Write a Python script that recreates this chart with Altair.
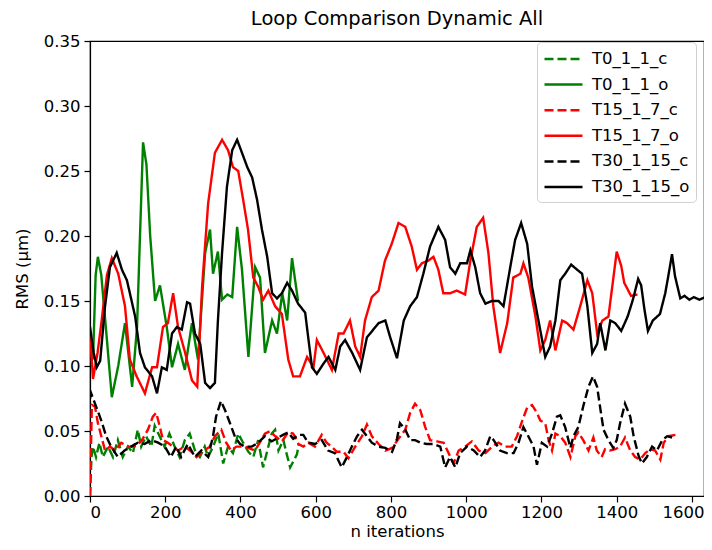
import altair as alt
import pandas as pd

SERIES = ["T0_1_1_c", "T0_1_1_o", "T15_1_7_c", "T15_1_7_o", "T30_1_15_c", "T30_1_15_o"]
COLORS = ["green", "green", "red", "red", "black", "black"]
DASHES = [[9, 4], [1, 0], [9, 4], [1, 0], [9, 4], [1, 0]]

T0_1_1_c = [(0, 0.0), (4, 0.03), (8, 0.038), (16, 0.03), (25, 0.041), (34, 0.03), (48, 0.038), (61, 0.03),
            (74, 0.043), (87, 0.03), (101, 0.038), (114, 0.033), (127, 0.051), (136, 0.038), (149, 0.046),
            (163, 0.038), (172, 0.054), (185, 0.046), (198, 0.038), (211, 0.048), (225, 0.038), (238, 0.03),
            (252, 0.043), (265, 0.048), (279, 0.035), (292, 0.03), (305, 0.038), (314, 0.03), (327, 0.038),
            (341, 0.048), (354, 0.025), (367, 0.038), (380, 0.033), (394, 0.048), (407, 0.041), (421, 0.034),
            (434, 0.03), (447, 0.043), (460, 0.022), (474, 0.038), (483, 0.048), (492, 0.051), (501, 0.035),
            (514, 0.043), (523, 0.032), (532, 0.022), (541, 0.027), (550, 0.032), (555, 0.04)]

T0_1_1_o = [(0, 0.12), (8, 0.105), (15, 0.17), (21, 0.184), (30, 0.17), (45, 0.12), (58, 0.076), (75, 0.1),
            (93, 0.133), (112, 0.084), (125, 0.13), (141, 0.272), (150, 0.255), (160, 0.2), (173, 0.15),
            (186, 0.162), (204, 0.13), (218, 0.099), (234, 0.117), (252, 0.097), (271, 0.133), (287, 0.105),
            (306, 0.187), (319, 0.205), (327, 0.171), (340, 0.188), (351, 0.151), (365, 0.155), (378, 0.153),
            (391, 0.207), (404, 0.174), (421, 0.107), (439, 0.176), (452, 0.168), (465, 0.11), (484, 0.135),
            (497, 0.125), (511, 0.156), (524, 0.135), (537, 0.183), (553, 0.15)]

T15_1_7_c = [(0, 0.0), (5, 0.07), (13, 0.069), (21, 0.056), (30, 0.046), (40, 0.035), (53, 0.038), (67, 0.035),
             (83, 0.041), (101, 0.038), (118, 0.038), (136, 0.042), (154, 0.051), (167, 0.061), (176, 0.064),
             (185, 0.054), (194, 0.043), (207, 0.041), (221, 0.038), (234, 0.035), (252, 0.038), (270, 0.034),
             (283, 0.03), (300, 0.034), (318, 0.038), (332, 0.046), (349, 0.051), (362, 0.041), (375, 0.035),
             (389, 0.038), (411, 0.038), (439, 0.035), (465, 0.048), (479, 0.05), (492, 0.046), (510, 0.042),
             (527, 0.049), (540, 0.048), (554, 0.04), (567, 0.038), (580, 0.041), (598, 0.038), (616, 0.047),
             (629, 0.041), (642, 0.038), (656, 0.034), (674, 0.034), (687, 0.029), (705, 0.038), (723, 0.046),
             (736, 0.055), (749, 0.046), (767, 0.04), (785, 0.035), (803, 0.037), (820, 0.044), (838, 0.051),
             (851, 0.064), (864, 0.071), (878, 0.066), (891, 0.053), (904, 0.043), (922, 0.042), (940, 0.041),
             (953, 0.033), (966, 0.025), (980, 0.035), (997, 0.038), (1015, 0.042), (1033, 0.035), (1051, 0.033),
             (1069, 0.038), (1086, 0.041), (1104, 0.038), (1121, 0.038), (1135, 0.046), (1149, 0.058),
             (1162, 0.068), (1175, 0.07), (1188, 0.064), (1197, 0.058), (1210, 0.056), (1219, 0.043),
             (1228, 0.035), (1237, 0.048), (1250, 0.046), (1263, 0.041), (1277, 0.03), (1290, 0.046),
             (1298, 0.049), (1311, 0.043), (1325, 0.035), (1338, 0.045), (1347, 0.035), (1360, 0.03),
             (1369, 0.036), (1382, 0.035), (1396, 0.036), (1409, 0.038), (1422, 0.045), (1436, 0.035),
             (1449, 0.03), (1462, 0.028), (1476, 0.033), (1489, 0.036), (1502, 0.035), (1516, 0.028),
             (1525, 0.041), (1538, 0.046), (1556, 0.047)]

T15_1_7_o = [(0, 0.125), (8, 0.09), (20, 0.11), (31, 0.135), (45, 0.17), (58, 0.183), (75, 0.171), (93, 0.146),
             (106, 0.105), (124, 0.092), (146, 0.079), (165, 0.099), (178, 0.099), (194, 0.13), (207, 0.133),
             (221, 0.156), (234, 0.13), (253, 0.11), (271, 0.089), (285, 0.084), (298, 0.161), (314, 0.225),
             (332, 0.264), (351, 0.274), (367, 0.266), (380, 0.253), (394, 0.25), (407, 0.228), (420, 0.205),
             (434, 0.168), (447, 0.161), (460, 0.151), (474, 0.158), (492, 0.146), (510, 0.14), (527, 0.105),
             (540, 0.092), (558, 0.092), (577, 0.107), (594, 0.099), (603, 0.12), (621, 0.11), (643, 0.097),
             (661, 0.125), (674, 0.125), (691, 0.135), (705, 0.115), (718, 0.107), (731, 0.135), (749, 0.153),
             (767, 0.158), (784, 0.181), (802, 0.194), (820, 0.21), (838, 0.207), (855, 0.192), (869, 0.174),
             (882, 0.179), (899, 0.181), (913, 0.184), (926, 0.174), (939, 0.156), (957, 0.156), (975, 0.158),
             (997, 0.155), (1011, 0.181), (1028, 0.207), (1045, 0.214), (1059, 0.187), (1072, 0.146),
             (1090, 0.11), (1109, 0.133), (1125, 0.168), (1144, 0.171), (1152, 0.179), (1165, 0.168),
             (1184, 0.138), (1197, 0.112), (1210, 0.12), (1223, 0.135), (1237, 0.112), (1255, 0.135),
             (1268, 0.133), (1285, 0.128), (1303, 0.146), (1322, 0.166), (1335, 0.156), (1348, 0.125),
             (1362, 0.135), (1378, 0.138), (1400, 0.188), (1412, 0.177), (1420, 0.164), (1438, 0.154),
             (1455, 0.155)]

T30_1_15_c = [(0, 0.075), (3, 0.079), (16, 0.069), (30, 0.058), (43, 0.046), (56, 0.038), (74, 0.03), (92, 0.035),
              (109, 0.038), (127, 0.041), (145, 0.04), (163, 0.043), (181, 0.041), (199, 0.038), (215, 0.03),
              (229, 0.038), (242, 0.03), (260, 0.04), (279, 0.03), (296, 0.035), (314, 0.03), (327, 0.046),
              (335, 0.061), (348, 0.073), (359, 0.066), (372, 0.056), (386, 0.045), (399, 0.04), (412, 0.038),
              (430, 0.038), (447, 0.041), (465, 0.046), (483, 0.042), (500, 0.045), (513, 0.047), (527, 0.049),
              (540, 0.044), (554, 0.047), (567, 0.047), (580, 0.041), (598, 0.04), (616, 0.043), (633, 0.035),
              (651, 0.033), (669, 0.022), (683, 0.03), (696, 0.038), (710, 0.046), (723, 0.051), (736, 0.046),
              (749, 0.041), (767, 0.038), (785, 0.037), (803, 0.034), (816, 0.044), (824, 0.056), (838, 0.051),
              (851, 0.043), (864, 0.043), (878, 0.041), (895, 0.04), (913, 0.04), (931, 0.038), (944, 0.022),
              (957, 0.03), (971, 0.022), (984, 0.033), (1002, 0.038), (1020, 0.035), (1037, 0.03), (1050, 0.035),
              (1064, 0.046), (1073, 0.043), (1090, 0.035), (1108, 0.033), (1126, 0.033), (1139, 0.041),
              (1152, 0.053), (1165, 0.046), (1179, 0.038), (1188, 0.024), (1201, 0.041), (1215, 0.038),
              (1228, 0.048), (1241, 0.061), (1250, 0.062), (1263, 0.053), (1277, 0.037), (1285, 0.046),
              (1298, 0.053), (1311, 0.069), (1325, 0.084), (1337, 0.092), (1348, 0.084), (1357, 0.066),
              (1365, 0.051), (1378, 0.043), (1391, 0.037), (1400, 0.043), (1409, 0.056), (1422, 0.071),
              (1436, 0.061), (1445, 0.046), (1458, 0.031), (1467, 0.025), (1480, 0.03), (1494, 0.038),
              (1507, 0.035), (1521, 0.043), (1534, 0.046), (1547, 0.045)]

T30_1_15_o = [(0, 0.13), (10, 0.11), (18, 0.099), (27, 0.104), (40, 0.146), (53, 0.176), (71, 0.187), (85, 0.174),
              (98, 0.166), (106, 0.156), (120, 0.138), (133, 0.11), (146, 0.099), (165, 0.092), (178, 0.079),
              (191, 0.099), (204, 0.097), (218, 0.125), (231, 0.13), (244, 0.128), (258, 0.149), (266, 0.148),
              (279, 0.125), (293, 0.117), (306, 0.087), (319, 0.083), (332, 0.087), (340, 0.135), (351, 0.187),
              (364, 0.238), (378, 0.266), (391, 0.274), (404, 0.264), (418, 0.253), (431, 0.245), (444, 0.228),
              (457, 0.205), (471, 0.184), (484, 0.156), (497, 0.152), (510, 0.156), (524, 0.164), (537, 0.158),
              (553, 0.148), (572, 0.141), (580, 0.122), (590, 0.099), (603, 0.094), (621, 0.102), (634, 0.107),
              (652, 0.097), (665, 0.115), (678, 0.12), (697, 0.11), (718, 0.097), (736, 0.122), (753, 0.128),
              (767, 0.133), (785, 0.135), (798, 0.122), (816, 0.106), (834, 0.135), (851, 0.146), (869, 0.153),
              (886, 0.171), (904, 0.192), (926, 0.207), (944, 0.197), (957, 0.176), (971, 0.171), (984, 0.179),
              (1002, 0.179), (1011, 0.189), (1024, 0.176), (1037, 0.156), (1051, 0.148), (1068, 0.15),
              (1086, 0.15), (1099, 0.146), (1117, 0.176), (1130, 0.197), (1146, 0.21), (1162, 0.194),
              (1175, 0.161), (1192, 0.135), (1210, 0.107), (1223, 0.115), (1237, 0.135), (1250, 0.166),
              (1263, 0.171), (1279, 0.178), (1295, 0.174), (1308, 0.171), (1322, 0.146), (1335, 0.11),
              (1348, 0.117), (1356, 0.133), (1370, 0.112), (1383, 0.135), (1396, 0.133), (1412, 0.127),
              (1429, 0.138), (1443, 0.151), (1457, 0.167), (1465, 0.162), (1474, 0.143), (1483, 0.127),
              (1496, 0.135), (1515, 0.14), (1529, 0.156), (1537, 0.169), (1547, 0.186), (1555, 0.169),
              (1569, 0.152), (1580, 0.154), (1593, 0.151), (1605, 0.153), (1620, 0.151), (1635, 0.153),
              (1648, 0.152)]

X_TICKS = [0, 200, 400, 600, 800, 1000, 1200, 1400, 1600]
Y_TICKS = [0.0, 0.05, 0.10, 0.15, 0.20, 0.25, 0.30, 0.35]

rows = []
for name, pts in zip(SERIES, [T0_1_1_c, T0_1_1_o, T15_1_7_c, T15_1_7_o, T30_1_15_c, T30_1_15_o]):
    for i, (xv, yv) in enumerate(pts):
        rows.append({"series": name, "x": xv, "y": yv, "i": i})
df = pd.DataFrame(rows)

FONT = "DejaVu Sans"

leg = alt.Legend(title=None, orient="none", legendX=447, legendY=1)

chart = alt.Chart(df).mark_line(strokeWidth=2.4, clip=True).encode(
    x=alt.X("x:Q", scale=alt.Scale(domain=[0, 1632], nice=False, zero=False),
            axis=alt.Axis(values=X_TICKS, title="n iterations", format="d", labelPadding=2, titlePadding=3,
                          labelOffset={"condition": {"test": "datum.value >= 1600", "value": -9}, "value": 0})),
    y=alt.Y("y:Q", scale=alt.Scale(domain=[0, 0.35], nice=False),
            axis=alt.Axis(values=Y_TICKS, title="RMS (μm)", format=".2f", labelPadding=4, titlePadding=13)),
    color=alt.Color("series:N", scale=alt.Scale(domain=SERIES, range=COLORS), legend=leg),
    strokeDash=alt.StrokeDash("series:N", scale=alt.Scale(domain=SERIES, range=DASHES), legend=leg),
    order=alt.Order("i:Q"),
).properties(
    width=614, height=455,
    title=alt.TitleParams("Loop Comparison Dynamic All", anchor="middle"),
    autosize=alt.AutoSizeParams(type="none"),
    padding={"left": 82, "top": 33, "right": 0, "bottom": 46},
).configure_view(
    stroke="black", strokeWidth=1.2
).configure_axis(
    grid=False, domainColor="black", domainWidth=1.2, tickColor="black", tickWidth=1.2, tickSize=6,
    labelColor="black", titleColor="black", labelFont=FONT, titleFont=FONT,
    labelFontSize=16.5, titleFontSize=16.5, titleFontWeight="normal",
).configure_title(
    font=FONT, fontSize=19.5, fontWeight="normal", color="black", offset=4
).configure_legend(
    labelFont=FONT, labelFontSize=16.5, labelColor="black", symbolType="M-1,0H3",
    symbolSize=361, symbolStrokeWidth=2.5, padding=6, strokeColor="#d0d0d0",
    cornerRadius=4, fillColor="white", labelOffset=27, rowPadding=5.6,
)

chart.save("out.html", embed_options={"renderer": "svg", "actions": False})
